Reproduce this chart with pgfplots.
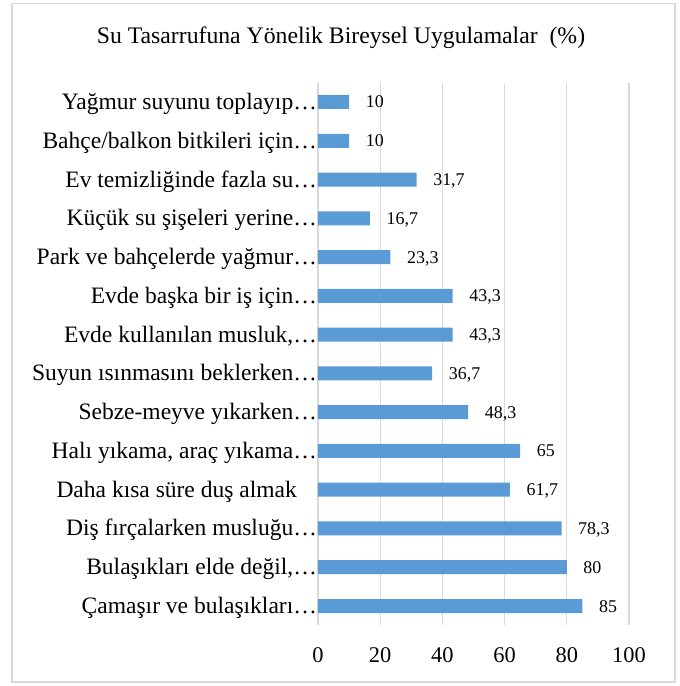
\documentclass[border=0pt]{standalone}
\usepackage{pgfplots}
\pgfplotsset{compat=1.18}
\usepackage{pgfplotstable}
\usepackage{fontspec}
\setmainfont{Liberation Serif}
\definecolor{barblue}{HTML}{5B9BD5}
\definecolor{gridgray}{HTML}{D9D9D9}
\pgfplotstableread{
idx val lab
0 10 10
1 10 10
2 31.7 31,7
3 16.7 16,7
4 23.3 23,3
5 43.3 43,3
6 43.3 43,3
7 36.7 36,7
8 48.3 48,3
9 65 65
10 61.7 61,7
11 78.3 78,3
12 80 80
13 85 85
}\datatable
\begin{document}
\begin{tikzpicture}
\useasboundingbox (-318bp,-60.6bp) rectangle (362bp,625.4bp);
\draw[gridgray, line width=1.3bp] (-306bp,-56.6bp) rectangle (357bp,621.9bp);
\begin{axis}[
  at={(0,0)}, anchor=south west,
  scale only axis,
  width=311bp, height=542.8bp,
  xbar, bar width=14bp,
  xmin=0, xmax=100,
  ymin=-0.5, ymax=13.5,
  y dir=reverse,
  xtick={0,20,...,100},
  ytick={0,1,...,13},
  yticklabels={
    {Yağmur suyunu toplayıp…},
    {Bahçe/balkon bitkileri için…},
    {Ev temizliğinde fazla su…},
    {Küçük su şişeleri yerine…},
    {Park ve bahçelerde yağmur…},
    {Evde başka bir iş için…},
    {Evde kullanılan musluk,…},
    {Suyun ısınmasını beklerken…},
    {Sebze-meyve yıkarken…},
    {Halı yıkama, araç yıkama…},
    {Daha kısa süre duş almak\hspace*{20bp}},
    {Diş fırçalarken musluğu…},
    {Bulaşıkları elde değil,…},
    {Çamaşır ve bulaşıkları…}},
  axis line style={draw=none},
  major tick length=0pt,
  xmajorgrids,
  grid style={gridgray, line width=1.3bp},
  /pgf/number format/assume math mode=true,
  xticklabel style={font=\fontsize{22.5}{26}\selectfont, anchor=base, yshift=-37bp},
  yticklabel style={font=\fontsize{23.6}{27}\selectfont, anchor=base east, inner sep=0pt, xshift=-1bp, yshift=-7.5bp},
  nodes near coords,
  point meta=explicit symbolic,
  nodes near coords style={font=\fontsize{18}{21}\selectfont, anchor=base west, inner sep=0pt, xshift=16.5bp, yshift=-6bp, text=black},
  clip=false,
]
\addplot[fill=barblue, draw=none] table[x=val, y=idx, meta=lab] {\datatable};
\end{axis}
\node[anchor=base, font=\fontsize{23.8}{28}\selectfont] at (23bp,581.4bp) {Su Tasarrufuna Yönelik Bireysel Uygulamalar\ \ (\%)};
\end{tikzpicture}
\end{document}
